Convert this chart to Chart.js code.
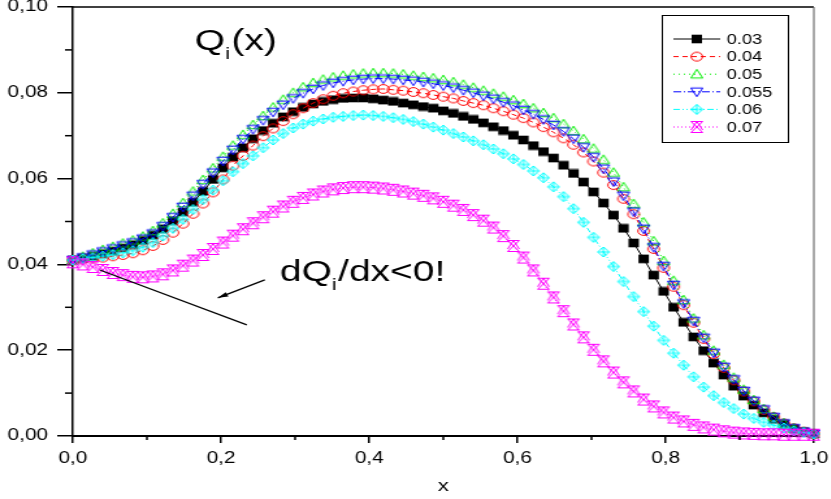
<!DOCTYPE html>
<html>
<head>
<meta charset="utf-8">
<script src="https://cdn.jsdelivr.net/npm/chart.js@4.4.0/dist/chart.umd.min.js"></script>
<style>
  html, body { margin: 0; padding: 0; background: #fff; overflow: hidden; }
  #wrap { width: 831px; height: 499px; position: relative; }
  /* the source picture is stretched sideways, so draw narrow and widen */
  #c { position: absolute; left: 0; top: 0; width: 639px; height: 499px; transform: scaleX(1.3); transform-origin: 0 0; }
</style>
</head>
<body>
<div id="wrap"><canvas id="c" width="639" height="499"></canvas></div>
<script>
const X = [0, 0.0135, 0.0270, 0.0405, 0.0541, 0.0676, 0.0811, 0.0946, 0.1081, 0.1216,
  0.1351, 0.1486, 0.1622, 0.1757, 0.1892, 0.2027, 0.2162, 0.2297, 0.2432, 0.2568,
  0.2703, 0.2838, 0.2973, 0.3108, 0.3243, 0.3378, 0.3514, 0.3649, 0.3784, 0.3919,
  0.4054, 0.4189, 0.4324, 0.4459, 0.4595, 0.4730, 0.4865, 0.5000, 0.5135, 0.5270,
  0.5405, 0.5541, 0.5676, 0.5811, 0.5946, 0.6081, 0.6216, 0.6351, 0.6486, 0.6622,
  0.6757, 0.6892, 0.7027, 0.7162, 0.7297, 0.7432, 0.7568, 0.7703, 0.7838, 0.7973,
  0.8108, 0.8243, 0.8378, 0.8514, 0.8649, 0.8784, 0.8919, 0.9054, 0.9189, 0.9324,
  0.9459, 0.9595, 0.9730, 0.9865, 1.0000];

const Q_003 = [0.0410, 0.0414, 0.0419, 0.0425, 0.0431, 0.0438, 0.0446, 0.0456, 0.0468, 0.0483,
  0.0502, 0.0522, 0.0545, 0.0570, 0.0598, 0.0625, 0.0650, 0.0672, 0.0693, 0.0712,
  0.0729, 0.0744, 0.0756, 0.0766, 0.0774, 0.0780, 0.0784, 0.0787, 0.0788, 0.0788,
  0.0786, 0.0783, 0.0780, 0.0776, 0.0772, 0.0768, 0.0764, 0.0758, 0.0752, 0.0745,
  0.0738, 0.0730, 0.0721, 0.0712, 0.0701, 0.0690, 0.0677, 0.0663, 0.0648, 0.0631,
  0.0612, 0.0592, 0.0569, 0.0543, 0.0515, 0.0484, 0.0450, 0.0413, 0.0375, 0.0337,
  0.0300, 0.0265, 0.0231, 0.0199, 0.0170, 0.0142, 0.0116, 0.0093, 0.0072, 0.0054,
  0.0039, 0.0027, 0.0017, 0.0010, 0.0005];

const Q_004 = [0.0410, 0.0412, 0.0414, 0.0416, 0.0419, 0.0422, 0.0426, 0.0433, 0.0443, 0.0457,
  0.0474, 0.0495, 0.0518, 0.0542, 0.0568, 0.0598, 0.0630, 0.0653, 0.0677, 0.0699,
  0.0717, 0.0734, 0.0750, 0.0764, 0.0776, 0.0785, 0.0793, 0.0799, 0.0803, 0.0806,
  0.0808, 0.0809, 0.0807, 0.0805, 0.0802, 0.0799, 0.0795, 0.0791, 0.0787, 0.0781,
  0.0776, 0.0771, 0.0764, 0.0757, 0.0749, 0.0741, 0.0731, 0.0720, 0.0708, 0.0694,
  0.0679, 0.0661, 0.0640, 0.0614, 0.0585, 0.0553, 0.0517, 0.0478, 0.0436, 0.0392,
  0.0348, 0.0305, 0.0264, 0.0226, 0.0191, 0.0159, 0.0130, 0.0104, 0.0081, 0.0061,
  0.0044, 0.0029, 0.0018, 0.0010, 0.0005];

const Q_005 = [0.0410, 0.0418, 0.0426, 0.0434, 0.0441, 0.0449, 0.0456, 0.0465, 0.0478, 0.0496,
  0.0518, 0.0543, 0.0570, 0.0597, 0.0624, 0.0651, 0.0677, 0.0702, 0.0725, 0.0746,
  0.0766, 0.0784, 0.0800, 0.0813, 0.0823, 0.0831, 0.0836, 0.0840, 0.0843, 0.0845,
  0.0846, 0.0846, 0.0845, 0.0843, 0.0840, 0.0837, 0.0834, 0.0830, 0.0825, 0.0819,
  0.0812, 0.0805, 0.0798, 0.0791, 0.0783, 0.0774, 0.0764, 0.0753, 0.0741, 0.0727,
  0.0711, 0.0692, 0.0670, 0.0644, 0.0614, 0.0580, 0.0541, 0.0498, 0.0454, 0.0408,
  0.0362, 0.0317, 0.0274, 0.0235, 0.0199, 0.0166, 0.0136, 0.0108, 0.0084, 0.0063,
  0.0045, 0.0030, 0.0018, 0.0010, 0.0005];

const Q_0055 = [0.0410, 0.0416, 0.0423, 0.0430, 0.0437, 0.0444, 0.0451, 0.0460, 0.0472, 0.0489,
  0.0510, 0.0534, 0.0560, 0.0587, 0.0614, 0.0641, 0.0667, 0.0692, 0.0715, 0.0736,
  0.0755, 0.0772, 0.0787, 0.0799, 0.0809, 0.0817, 0.0823, 0.0827, 0.0830, 0.0832,
  0.0833, 0.0833, 0.0832, 0.0830, 0.0828, 0.0825, 0.0821, 0.0817, 0.0812, 0.0806,
  0.0800, 0.0793, 0.0786, 0.0778, 0.0770, 0.0760, 0.0750, 0.0738, 0.0725, 0.0710,
  0.0693, 0.0673, 0.0650, 0.0623, 0.0593, 0.0560, 0.0523, 0.0483, 0.0440, 0.0396,
  0.0352, 0.0309, 0.0268, 0.0229, 0.0194, 0.0161, 0.0132, 0.0105, 0.0082, 0.0062,
  0.0044, 0.0029, 0.0018, 0.0010, 0.0005];

const Q_006 = [0.0410, 0.0413, 0.0416, 0.0419, 0.0423, 0.0427, 0.0432, 0.0440, 0.0451, 0.0466,
  0.0484, 0.0505, 0.0528, 0.0551, 0.0573, 0.0595, 0.0616, 0.0635, 0.0653, 0.0672,
  0.0690, 0.0705, 0.0718, 0.0727, 0.0734, 0.0739, 0.0743, 0.0745, 0.0747, 0.0748,
  0.0747, 0.0745, 0.0742, 0.0738, 0.0733, 0.0727, 0.0720, 0.0713, 0.0705, 0.0697,
  0.0688, 0.0679, 0.0669, 0.0658, 0.0646, 0.0633, 0.0618, 0.0602, 0.0581, 0.0558,
  0.0530, 0.0498, 0.0463, 0.0429, 0.0395, 0.0360, 0.0325, 0.0290, 0.0256, 0.0223,
  0.0193, 0.0165, 0.0138, 0.0114, 0.0094, 0.0078, 0.0064, 0.0051, 0.0041, 0.0032,
  0.0025, 0.0019, 0.0012, 0.0008, 0.0005];

const Q_007 = [0.0405, 0.0400, 0.0394, 0.0387, 0.0380, 0.0375, 0.0371, 0.0370, 0.0372, 0.0377,
  0.0386, 0.0397, 0.0409, 0.0422, 0.0436, 0.0451, 0.0467, 0.0482, 0.0496, 0.0510,
  0.0523, 0.0535, 0.0546, 0.0555, 0.0563, 0.0570, 0.0575, 0.0578, 0.0580, 0.0580,
  0.0579, 0.0577, 0.0574, 0.0570, 0.0565, 0.0560, 0.0554, 0.0546, 0.0537, 0.0527,
  0.0515, 0.0502, 0.0486, 0.0466, 0.0443, 0.0416, 0.0386, 0.0355, 0.0323, 0.0291,
  0.0260, 0.0230, 0.0201, 0.0174, 0.0148, 0.0125, 0.0104, 0.0085, 0.0069, 0.0055,
  0.0043, 0.0034, 0.0026, 0.0020, 0.0015, 0.0011, 0.0008, 0.0006, 0.0005, 0.0004,
  0.0004, 0.0003, 0.0003, 0.0003, 0.0003];

const SERIES_LABELS = ['0.03', '0.04', '0.05', '0.055', '0.06', '0.07'];
const X_TICKS = [0, 0.2, 0.4, 0.6, 0.8, 1.0];
const X_MINOR = [0.1, 0.3, 0.5, 0.7, 0.9];
const Y_TICKS = [0, 0.02, 0.04, 0.06, 0.08, 0.10];
const Y_MINOR = [0.01, 0.03, 0.05, 0.07, 0.09];

// annotation anchors, in data units
const TANGENT = [[0.0364, 0.0387], [0.2348, 0.0259]];
const ARROW = [[0.2591, 0.0364], [0.1957, 0.0322]];
const TITLE_AT = [0.1646, 0.0900];
const NOTE_AT = [0.2794, 0.0361];

const FONT = "'Liberation Sans', Arial, Helvetica, sans-serif";

function marker(w, h, draw) {
  const c = document.createElement('canvas');
  c.width = w; c.height = h;
  const g = c.getContext('2d');
  g.lineWidth = 1;
  draw(g, w / 2, h / 2);
  return c;
}

const mkSquare = marker(10, 10, (g, cx, cy) => {
  g.fillStyle = '#000';
  g.fillRect(cx - 4, cy - 4.3, 8, 8.6);
});
const mkCircle = marker(12, 12, (g, cx, cy) => {
  g.strokeStyle = '#ff0000';
  g.beginPath(); g.arc(cx, cy, 4.4, 0, Math.PI * 2); g.stroke();
});
const mkTriUp = marker(12, 12, (g, cx, cy) => {
  g.strokeStyle = '#00ee00';
  g.beginPath(); g.moveTo(cx, cy - 4.8); g.lineTo(cx + 4.6, cy + 3.8); g.lineTo(cx - 4.6, cy + 3.8); g.closePath(); g.stroke();
});
const mkTriDown = marker(12, 12, (g, cx, cy) => {
  g.strokeStyle = '#0000ff';
  g.beginPath(); g.moveTo(cx, cy + 4.8); g.lineTo(cx + 4.6, cy - 3.8); g.lineTo(cx - 4.6, cy - 3.8); g.closePath(); g.stroke();
});
const mkDiamond = marker(12, 12, (g, cx, cy) => {
  g.strokeStyle = '#00ffff';
  g.beginPath();
  g.moveTo(cx, cy - 5); g.lineTo(cx + 4.4, cy); g.lineTo(cx, cy + 5); g.lineTo(cx - 4.4, cy); g.closePath();
  g.moveTo(cx, cy - 5); g.lineTo(cx, cy + 5);
  g.moveTo(cx - 4.4, cy); g.lineTo(cx + 4.4, cy);
  g.stroke();
});
const mkStar = marker(12, 14, (g, cx, cy) => {
  g.strokeStyle = '#ff00ff';
  g.beginPath();
  g.moveTo(cx - 4.5, cy - 5.5); g.lineTo(cx + 4.5, cy + 5.5);
  g.moveTo(cx + 4.5, cy - 5.5); g.lineTo(cx - 4.5, cy + 5.5);
  g.moveTo(cx - 4.5, cy - 5.5); g.lineTo(cx + 4.5, cy - 5.5);
  g.moveTo(cx - 4.5, cy + 5.5); g.lineTo(cx + 4.5, cy + 5.5);
  g.moveTo(cx - 4.5, cy + 3); g.lineTo(cx, cy - 5.5); g.lineTo(cx + 4.5, cy + 3);
  g.stroke();
});

const STYLE = [
  { color: '#000000', dash: [], mk: mkSquare },
  { color: '#ff0000', dash: [4, 3], mk: mkCircle },
  { color: '#00ee00', dash: [1, 3], mk: mkTriUp },
  { color: '#0000ff', dash: [6, 2, 1, 2], mk: mkTriDown },
  { color: '#00ffff', dash: [5, 2, 1, 2, 1, 2], mk: mkDiamond },
  { color: '#ff00ff', dash: [1, 2], mk: mkStar },
];
const SERIES = [Q_003, Q_004, Q_005, Q_0055, Q_006, Q_007];

const comma = (v, d) => v.toFixed(d).replace('.', ',');

function line(ctx, x1, y1, x2, y2) {
  ctx.beginPath(); ctx.moveTo(x1, y1); ctx.lineTo(x2, y2); ctx.stroke();
}

function subText(ctx, x, y, parts) {
  let cx = x;
  for (const [txt, size, dy] of parts) {
    ctx.font = `${size}px ${FONT}`;
    ctx.fillText(txt, cx, y + dy);
    cx += ctx.measureText(txt).width + (dy ? 1 : 0);
  }
}

const decor = {
  id: 'decor',
  afterDraw(chart) {
    const { ctx, chartArea: a } = chart;
    const sx = chart.scales.x, sy = chart.scales.y;
    const P = (p) => [sx.getPixelForValue(p[0]), sy.getPixelForValue(p[1])];
    ctx.save();

    // frame top and right
    ctx.strokeStyle = '#000'; ctx.lineWidth = 1.3;
    line(ctx, a.left, a.top, a.right, a.top);
    ctx.strokeStyle = '#555'; ctx.lineWidth = 1;
    line(ctx, a.right, a.top, a.right, a.bottom);

    // minor ticks
    ctx.strokeStyle = '#000'; ctx.lineWidth = 1.5;
    X_MINOR.forEach(v => { const p = sx.getPixelForValue(v); line(ctx, p, a.bottom, p, a.bottom + 4); });
    Y_MINOR.forEach(v => { const p = sy.getPixelForValue(v); line(ctx, a.left - 6, p, a.left, p); });

    // tangent and arrow
    ctx.lineWidth = 1.2;
    const t0 = P(TANGENT[0]), t1 = P(TANGENT[1]);
    line(ctx, t0[0], t0[1], t1[0], t1[1]);
    const a0 = P(ARROW[0]), a1 = P(ARROW[1]);
    line(ctx, a0[0], a0[1], a1[0], a1[1]);
    const ang = Math.atan2(a1[1] - a0[1], a1[0] - a0[0]);
    ctx.fillStyle = '#000';
    ctx.beginPath();
    ctx.moveTo(a1[0], a1[1]);
    ctx.lineTo(a1[0] - 8 * Math.cos(ang) + 2.4 * Math.sin(ang), a1[1] - 8 * Math.sin(ang) - 2.4 * Math.cos(ang));
    ctx.lineTo(a1[0] - 8 * Math.cos(ang) - 2.4 * Math.sin(ang), a1[1] - 8 * Math.sin(ang) + 2.4 * Math.cos(ang));
    ctx.closePath(); ctx.fill();

    // texts
    ctx.fillStyle = '#000'; ctx.textBaseline = 'alphabetic'; ctx.textAlign = 'left';
    const tp = P(TITLE_AT);
    subText(ctx, tp[0], tp[1], [['Q', 30, 0], ['i', 17, 9], ['(x)', 30, 0]]);
    const np = P(NOTE_AT);
    subText(ctx, np[0], np[1], [['dQ', 30, 0], ['i', 17, 9], ['/dx<0!', 30, 0]]);

    // legend
    const bx = 509.5, by = 15.5, bw = 97, bh = 127;
    ctx.fillStyle = '#fff'; ctx.fillRect(bx, by, bw, bh);
    ctx.strokeStyle = '#000'; ctx.lineWidth = 1;
    ctx.strokeRect(bx, by, bw, bh);
    ctx.font = `14px ${FONT}`; ctx.textBaseline = 'middle';
    SERIES_LABELS.forEach((lab, i) => {
      const s = STYLE[i];
      const ry = 39 + i * 17.6;
      ctx.strokeStyle = s.color; ctx.lineWidth = 1;
      ctx.setLineDash(s.dash);
      line(ctx, 518, ry, 554, ry);
      ctx.setLineDash([]);
      ctx.drawImage(s.mk, 536 - s.mk.width / 2, ry - s.mk.height / 2);
      ctx.fillStyle = '#000';
      ctx.fillText(lab, 559, ry + 1);
    });
    ctx.restore();
  }
};

new Chart(document.getElementById('c'), {
  type: 'line',
  data: {
    datasets: SERIES.map((vals, i) => ({
      label: SERIES_LABELS[i],
      data: X.map((x, j) => ({ x, y: vals[j] })),
      borderColor: STYLE[i].color,
      borderWidth: 1,
      borderDash: STYLE[i].dash,
      pointStyle: STYLE[i].mk,
      pointRadius: 5,
      pointHoverRadius: 5,
      order: SERIES.length - i,
      tension: 0,
      fill: false,
      clip: false,
    }))
  },
  options: {
    responsive: false,
    animation: false,
    events: [],
    layout: { padding: { top: 7, right: 13, left: 0, bottom: 0 } },
    plugins: { legend: { display: false }, tooltip: { enabled: false } },
    scales: {
      x: {
        type: 'linear', min: 0, max: 1,
        afterBuildTicks: s => { s.ticks = X_TICKS.map(v => ({ value: v })); },
        afterFit: s => { s.height = 63; s.paddingLeft = 0; s.paddingRight = 0; },
        ticks: { callback: v => comma(v, 1), font: { family: FONT, size: 16 }, color: '#000', padding: 6, maxRotation: 0, autoSkip: false },
        grid: { drawOnChartArea: false, tickLength: 7, tickColor: '#000', lineWidth: 1.5 },
        border: { color: '#000', width: 2 },
        title: { display: true, text: 'x', font: { family: FONT, size: 17 }, color: '#000', padding: { top: 0, bottom: 2 } },
      },
      y: {
        type: 'linear', min: 0, max: 0.1,
        afterBuildTicks: s => { s.ticks = Y_TICKS.map(v => ({ value: v })); },
        afterFit: s => { s.width = 56; s.paddingTop = 0; s.paddingBottom = 0; },
        ticks: { callback: v => comma(v, 2), font: { family: FONT, size: 16 }, color: '#000', padding: 7, autoSkip: false },
        grid: { drawOnChartArea: false, tickLength: 12, tickColor: '#000', lineWidth: 1.5 },
        border: { color: '#000', width: 1.5 },
      }
    }
  },
  plugins: [decor]
});
</script>
</body>
</html>
